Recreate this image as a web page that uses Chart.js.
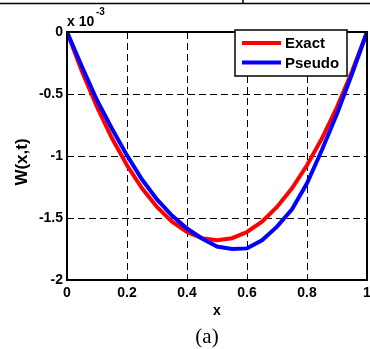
<!DOCTYPE html>
<html>
<head>
<meta charset="utf-8">
<script src="https://cdn.jsdelivr.net/npm/chart.js@4"></script>
<style>
  html, body { margin: 0; padding: 0; background: #fff; }
  #wrap { width: 370px; height: 349px; position: relative; }
</style>
</head>
<body>
<div id="wrap"><canvas id="chart" width="370" height="349"></canvas></div>
<script>
// values in units of 1e-3
const xValues = [0, 0.05, 0.1, 0.15, 0.2, 0.25, 0.3, 0.35, 0.4, 0.45, 0.5,
                 0.55, 0.6, 0.65, 0.7, 0.75, 0.8, 0.85, 0.9, 0.95, 1];
const exactW = [0, -0.319, -0.605, -0.857, -1.075, -1.26, -1.411, -1.529, -1.613, -1.663, -1.68,
                -1.663, -1.613, -1.529, -1.411, -1.26, -1.075, -0.857, -0.605, -0.319, 0];
const pseudoW = [0, -0.28, -0.55, -0.78, -0.995, -1.19, -1.35, -1.48, -1.585, -1.665, -1.73,
                 -1.75, -1.745, -1.68, -1.57, -1.43, -1.22, -0.95, -0.66, -0.34, 0];
const xTicks = [0, 0.2, 0.4, 0.6, 0.8, 1];
const yTicks = [0, -0.5, -1, -1.5, -2];

const toPoints = (ys) => xValues.map((x, i) => ({ x: x, y: ys[i] }));

// draws the box, legend and all the matlab style texts
const decorations = {
  id: 'decorations',
  afterDraw(chart) {
    const ctx = chart.ctx;
    const a = chart.chartArea;
    ctx.save();

    // table border remnants at the top
    ctx.strokeStyle = '#000';
    ctx.lineWidth = 1.5;
    ctx.beginPath();
    ctx.moveTo(0, 3.5); ctx.lineTo(370, 3.5);
    ctx.moveTo(243, 0); ctx.lineTo(243, 3.5);
    ctx.stroke();

    // axes box
    ctx.lineWidth = 2;
    ctx.strokeRect(a.left, a.top, a.right - a.left, a.bottom - a.top);

    // exponent
    ctx.fillStyle = '#000';
    ctx.textBaseline = 'alphabetic';
    ctx.textAlign = 'left';
    ctx.font = 'bold 14px Arial, "Liberation Sans"';
    ctx.fillText('x 10', 67, 26);
    ctx.font = 'bold 10px Arial, "Liberation Sans"';
    ctx.fillText('-3', 96, 15);

    // axis titles
    ctx.font = 'bold 14px Arial, "Liberation Sans"';
    ctx.textAlign = 'center';
    ctx.textBaseline = 'middle';
    ctx.fillText('x', 217, 311);
    ctx.save();
    ctx.translate(22, 162);
    ctx.rotate(-Math.PI / 2);
    ctx.font = 'bold 17px Arial, "Liberation Sans"';
    ctx.fillText('W(x,t)', 0, 0);
    ctx.restore();

    // caption
    ctx.font = '21px "Times New Roman", "Liberation Serif"';
    ctx.fillText('(a)', 207, 337);

    // legend
    const lx = 235, ly = 30, lw = 112, lh = 46;
    ctx.fillStyle = '#fff';
    ctx.fillRect(lx, ly, lw, lh);
    ctx.strokeStyle = '#000';
    ctx.lineWidth = 1.5;
    ctx.strokeRect(lx, ly, lw, lh);
    ctx.font = 'bold 15px Arial, "Liberation Sans"';
    ctx.textAlign = 'left';
    chart.data.datasets.forEach((ds, i) => {
      const y = ly + 13 + i * 19.5;
      ctx.strokeStyle = ds.borderColor;
      ctx.lineWidth = 4;
      ctx.beginPath();
      ctx.moveTo(lx + 7, y);
      ctx.lineTo(lx + 46, y);
      ctx.stroke();
      ctx.fillStyle = '#000';
      ctx.fillText(ds.label, lx + 50, y + 1);
    });

    ctx.restore();
  }
};

const ctx = document.getElementById('chart').getContext('2d');
new Chart(ctx, {
  type: 'line',
  data: {
    datasets: [
      { label: 'Exact', data: toPoints(exactW), borderColor: '#ff0000', borderWidth: 4,
        pointRadius: 0, tension: 0, order: 1 },
      { label: 'Pseudo', data: toPoints(pseudoW), borderColor: '#0000ff', borderWidth: 4,
        pointRadius: 0, tension: 0, order: 0 }
    ]
  },
  options: {
    responsive: false,
    animation: false,
    events: [],
    layout: { padding: { left: 0, right: 3, top: 32, bottom: 0 } },
    plugins: { legend: { display: false }, tooltip: { enabled: false } },
    scales: {
      x: {
        type: 'linear', min: 0, max: 1,
        afterBuildTicks: (s) => { s.ticks = xTicks.map(v => ({ value: v })); },
        afterFit: (s) => { s.height = 69; s.paddingLeft = 0; s.paddingRight = 0; },
        grid: { color: '#000', lineWidth: 1, tickLength: 0, drawTicks: false },
        border: { display: false, dash: [7, 4] },
        ticks: {
          color: '#000', padding: 5, maxRotation: 0,
          font: { family: 'Arial, "Liberation Sans"', size: 14, weight: 'bold' },
          callback: (v) => String(v)
        }
      },
      y: {
        type: 'linear', min: -2, max: 0,
        afterBuildTicks: (s) => { s.ticks = yTicks.map(v => ({ value: v })); },
        afterFit: (s) => { s.width = 67; },
        grid: { color: '#000', lineWidth: 1, tickLength: 0, drawTicks: false },
        border: { display: false, dash: [7, 4] },
        ticks: {
          color: '#000', padding: 4,
          font: { family: 'Arial, "Liberation Sans"', size: 14, weight: 'bold' },
          callback: (v) => String(v)
        }
      }
    }
  },
  plugins: [decorations]
});
</script>
</body>
</html>
